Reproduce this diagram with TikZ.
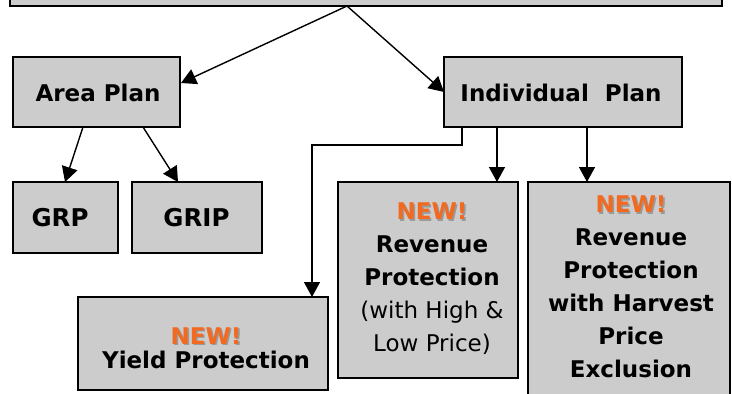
\documentclass[tikz,border=0pt]{standalone}
\usepackage{fontspec}
\setmainfont{DejaVu Sans}
\usetikzlibrary{arrows.meta,calc}
\definecolor{boxgray}{HTML}{CCCCCC}
\definecolor{neworange}{HTML}{F26A21}
\definecolor{shadowgray}{HTML}{9A9A9A}
\newcommand{\newbadge}{\rlap{\hspace{1.6pt}\raisebox{-1.6pt}{\textcolor{shadowgray}{NEW!}}}\textcolor{neworange}{NEW!}}
\tikzset{
  pbox/.style={draw=black, line width=2pt, fill=boxgray, inner sep=0pt, outer sep=0pt},
  arr/.style={line width=1.4pt, -{Triangle[length=15pt,width=16pt]}},
  lbl/.style={font=\fontsize{23}{33}\selectfont\bfseries, align=center, inner sep=0pt},
}
\begin{document}
\begin{tikzpicture}[x=1pt,y=-1pt]
\useasboundingbox (0,0) rectangle (732,394);
\clip (0,0) rectangle (732,394);
% boxes
\node[pbox, minimum width=712pt, minimum height=18pt] (top) at (366,-3) {};
\node[pbox, minimum width=167pt, minimum height=70pt] (area) at (96.5,92) {};
\node[pbox, minimum width=238pt, minimum height=70pt] (indiv) at (563,92) {};
\node[pbox, minimum width=105pt, minimum height=71pt] (grp) at (65.5,217.5) {};
\node[pbox, minimum width=130pt, minimum height=71pt] (grip) at (197,217.5) {};
\node[pbox, minimum width=250pt, minimum height=93pt] (yield) at (203,343.5) {};
\node[pbox, minimum width=180pt, minimum height=196pt] (rp) at (428,280) {};
\node[pbox, minimum width=202pt, minimum height=240pt] (rphpe) at (629,302) {};
% labels
\node[lbl] (areaT) at (98,93) {Area Plan};
\node[lbl] (indivT) at (561,93) {Individual\ \ Plan};
\node[lbl, font=\fontsize{24.5}{30}\selectfont\bfseries] (grpT) at (60,218) {GRP};
\node[lbl, font=\fontsize{24.5}{30}\selectfont\bfseries] (gripT) at (196.5,218) {GRIP};
\node[lbl, font=\fontsize{23}{24}\selectfont\bfseries] (yieldT) at (206,348) {\newbadge\\Yield Protection};
\node[lbl] (rpT) at (432,279) {\newbadge\\Revenue\\Protection\\{\mdseries (with High \&}\\{\mdseries Low Price)}};
\node[lbl] (rphpeT) at (631,287) {\newbadge\\Revenue\\Protection\\with Harvest\\Price\\Exclusion};
% connectors
\coordinate (src) at (347,6);
\draw[arr] (src) -- ($(area.east)+(1,-9)$);
\draw[arr] (src) -- (indiv.west);
\draw[arr] ($(area.south)+(-13.5,0)$) -- ($(grp.north)+(-0.5,0)$);
\draw[arr] ($(area.south)+(46.5,0)$) -- ($(grip.north)+(-19,0)$);
\draw[arr] ($(indiv.south)+(-101,0)$) |- (312,145) -- ($(yield.north)+(109,0)$);
\draw[arr] ($(indiv.south)+(-66,0)$) -- ($(rp.north)+(69,0)$);
\draw[arr] ($(indiv.south)+(24,0)$) -- ($(rphpe.north)+(-42,0)$);
\end{tikzpicture}
\end{document}
